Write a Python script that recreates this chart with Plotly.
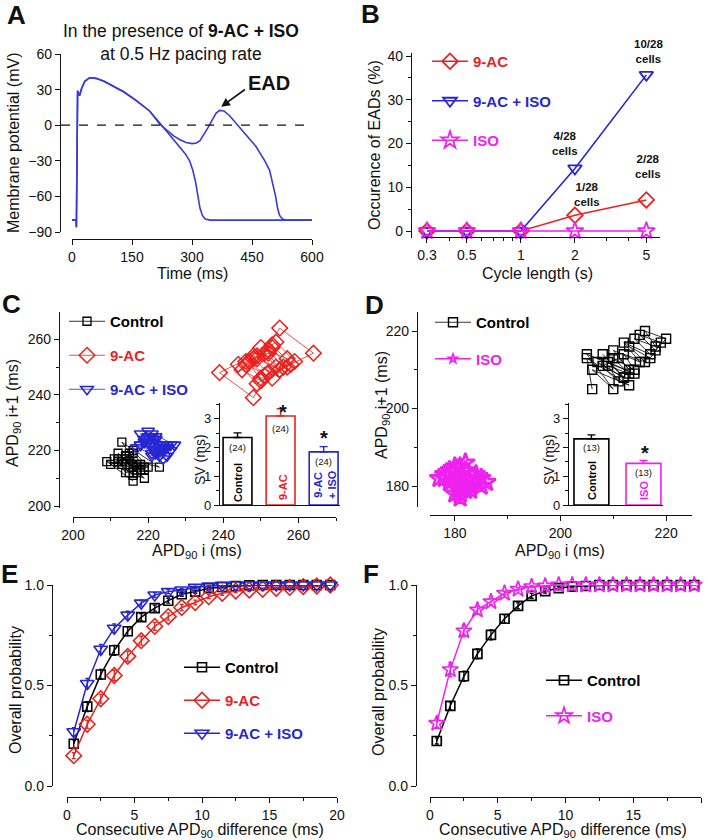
import plotly.graph_objects as go

# ------------------------------------------------------------------ DATA
# Panel A: action potential traces (time in ms, membrane potential in mV)
ap_time_ead = [0, 10, 11, 12, 13, 14, 16, 19, 24, 32, 44, 60, 80, 100, 130, 160, 194, 219, 236, 254, 269, 285,
               300, 311, 320, 330, 340, 350, 360, 369, 380, 394, 410, 427, 445, 460, 470, 482, 494, 503, 509,
               514, 519, 526, 535, 600]
ap_volt_ead = [-80, -80, -86, -55, -10, 29, 27, 25, 31, 37, 40, 39.5, 37, 33.5, 28, 21, 12, 1, -4, -9, -12, -14.5,
               -15.5, -15, -13, -8, -2, 4, 10, 12.5, 12, 8, 2, -5, -12, -18, -23, -30, -38, -50, -60,
               -70, -76, -79, -80, -80]
ap_time_normal = [0, 10, 11, 12, 13, 14, 16, 19, 24, 32, 44, 60, 80, 100, 130, 160, 194, 219, 236, 254, 269, 283,
                  294, 302, 309, 315, 320, 326, 333, 345, 400, 500, 600]
ap_volt_normal = [-80, -80, -86, -55, -10, 29, 27, 25, 31, 37, 40, 39.5, 37, 33.5, 28, 21, 12, 2, -5, -12, -18, -24,
                  -30, -38, -48, -60, -70, -76, -79, -80, -80, -80, -80]

# Panel B: occurrence of EADs (%) vs cycle length (s)
cycle_length_s = [0.3, 0.5, 1, 2, 5]
ead_pct_9ac = [0, 0, 0, 3.6, 7.1]
ead_pct_9ac_iso = [0, 0, 0, 14.3, 35.7]
ead_pct_iso = [0, 0, 0, 0, 0]
cycle_ticks = [0.3, 0.5, 1, 2, 5]
cycle_tick_text = ["0.3", "0.5", "1", "2", "5"]

# Panel C: beat-to-beat APD90 sequences (ms)
apd_c_control = [216, 209, 216, 214, 218, 213, 223, 214, 217, 212, 219, 210, 215, 218, 213, 216, 220, 214,
                 212, 217, 215, 219, 213, 216, 211, 217, 214, 218, 215, 212, 216, 219, 214, 217, 213, 215]
apd_c_9ac = [252, 248, 239, 248, 254, 250, 257, 253, 246, 251, 255, 264, 255, 249, 253, 258, 251, 247,
             252, 256, 250, 245, 249, 254, 259, 252, 248, 253, 257, 250, 246, 252, 255, 249, 244, 251]
apd_c_9ac_iso = [221, 218, 226, 222, 224, 220, 227, 222, 219, 223, 221, 225, 218, 222, 224, 217, 221, 223,
                 220, 225, 222, 219, 224, 221, 226, 220, 223, 218, 222, 225, 221, 219, 224, 222, 220, 223]
sv_c_groups = ["Control", "9-AC", "9-AC + ISO"]
sv_c_values = [2.35, 3.1, 1.85]
sv_c_err = [0.16, 0.25, 0.18]
sv_c_n = [24, 24, 24]

# Panel D
apd_d_control = [206, 205, 213, 206, 210, 205, 214, 209, 212, 208, 211, 213, 210, 215, 212, 217, 214, 218,
                 216, 220, 218, 215, 219, 217, 213, 216, 212, 214, 210, 213, 209, 211, 207, 212, 208, 214]
apd_d_iso = [181, 178, 183, 180, 185, 182, 179, 184, 181, 177, 182, 180, 184, 183, 179, 181, 185, 180,
             178, 182, 184, 181, 179, 183, 180, 182, 186, 181, 178, 183, 180, 184, 182, 179, 181, 183]
sv_d_groups = ["Control", "ISO"]
sv_d_values = [2.3, 1.45]
sv_d_err = [0.14, 0.1]
sv_d_n = [13, 13]

# Panels E/F: cumulative probability of consecutive APD90 difference
apd_diff_ms = [0.5, 1.5, 2.5, 3.5, 4.5, 5.5, 6.5, 7.5, 8.5, 9.5, 10.5, 11.5, 12.5, 13.5, 14.5, 15.5, 16.5,
               17.5, 18.5, 19.5]
cum_e_control = [0.21, 0.395, 0.555, 0.675, 0.77, 0.84, 0.885, 0.922, 0.954, 0.967, 0.984, 0.99, 0.995,
                 0.998, 1.0, 1.0, 1.0, 1.0, 1.0, 1.0]
err_e_control = [0.02, 0.025, 0.025, 0.025, 0.022, 0.018, 0.015, 0.012, 0.01, 0.008, 0.005, 0.004, 0.003,
                 0.002, 0.001, 0, 0, 0, 0, 0]
cum_e_9ac = [0.151, 0.307, 0.434, 0.55, 0.645, 0.723, 0.794, 0.843, 0.888, 0.913, 0.942, 0.959, 0.97,
             0.975, 0.979, 0.984, 0.988, 0.992, 0.995, 1.0]
err_e_9ac = [0.015, 0.02, 0.022, 0.025, 0.025, 0.022, 0.02, 0.018, 0.015, 0.012, 0.01, 0.01, 0.008, 0.008,
             0.007, 0.006, 0.005, 0.004, 0.003, 0.002]
cum_e_9ac_iso = [0.27, 0.51, 0.68, 0.785, 0.85, 0.91, 0.95, 0.967, 0.975, 0.988, 0.995, 0.998, 1.0, 1.0,
                 1.0, 1.0, 1.0, 1.0, 1.0, 1.0]
err_e_9ac_iso = [0.02, 0.025, 0.025, 0.022, 0.02, 0.015, 0.012, 0.01, 0.008, 0.006, 0.004, 0.003, 0.002, 0,
                 0, 0, 0, 0, 0, 0]
cum_f_control = [0.224, 0.399, 0.546, 0.657, 0.752, 0.832, 0.896, 0.946, 0.97, 0.984, 0.992, 0.995, 1.0,
                 1.0, 1.0, 1.0, 1.0, 1.0, 1.0, 1.0]
err_f_control = [0.015, 0.02, 0.025, 0.025, 0.025, 0.02, 0.015, 0.012, 0.01, 0.008, 0.006, 0.004, 0.003,
                 0.002, 0, 0, 0, 0, 0, 0]
cum_f_iso = [0.312, 0.579, 0.772, 0.876, 0.917, 0.959, 0.979, 0.992, 0.995, 1.0, 1.0, 1.0, 1.0, 1.0, 1.0,
             1.0, 1.0, 1.0, 1.0, 1.0]
err_f_iso = [0.025, 0.035, 0.03, 0.02, 0.015, 0.01, 0.008, 0.005, 0.003, 0.002, 0, 0, 0, 0, 0, 0, 0, 0, 0, 0]

# ------------------------------------------------------------------ STYLE
W, H = 708, 840
FONT = "Liberation Sans, Arial, Helvetica, sans-serif"
INK = "#111111"
RED = "#e8231f"
BLUE = "#2626d2"
MAG = "#ee22ee"
TRACE_A = "#3a3ad4"


def X(px):
    return px / W


def Y(py):
    return 1 - py / H


def xax(px0, px1, rng, py, **kw):
    d = dict(domain=[X(px0), X(px1)], range=rng, anchor="free", position=Y(py), showline=True,
             linecolor=INK, linewidth=1.3, ticks="outside", ticklen=5, tickwidth=1.2, tickcolor=INK,
             showgrid=False, zeroline=False, fixedrange=True, automargin=False,
             tickfont=dict(family=FONT, size=14, color=INK))
    d.update(kw)
    return d


def yax(py_top, py_bot, rng, px, **kw):
    d = dict(domain=[Y(py_bot), Y(py_top)], range=rng, anchor="free", position=X(px), side="left",
             showline=True, linecolor=INK, linewidth=1.3, ticks="outside", ticklen=5, tickwidth=1.2,
             tickcolor=INK, showgrid=False, zeroline=False, fixedrange=True, automargin=False,
             tickfont=dict(family=FONT, size=14, color=INK))
    d.update(kw)
    return d


def minor(**kw):
    d = dict(ticks="outside", ticklen=3, tickwidth=1, tickcolor=INK)
    d.update(kw)
    return d


def legend_name(text, color):
    return "<span style='color:%s'><b>%s</b></span>" % (color, text)


fig = go.Figure()

# ------------------------------------------------------------------ PANEL A
fig.add_trace(go.Scatter(x=ap_time_normal, y=ap_volt_normal, mode="lines", xaxis="x", yaxis="y",
                         line=dict(color=TRACE_A, width=1.6), showlegend=False, cliponaxis=False))
fig.add_trace(go.Scatter(x=ap_time_ead, y=ap_volt_ead, mode="lines", xaxis="x", yaxis="y",
                         line=dict(color=TRACE_A, width=1.6), showlegend=False, cliponaxis=False))

# ------------------------------------------------------------------ PANEL B
b_series = [("9-AC", ead_pct_9ac, RED, "diamond-open", 12),
            ("9-AC + ISO", ead_pct_9ac_iso, BLUE, "triangle-down-open", 12),
            ("ISO", ead_pct_iso, MAG, "star-open", 13)]
for i, (nm, vals, col, sym, sz) in enumerate(b_series):
    fig.add_trace(go.Scatter(x=cycle_length_s, y=vals, mode="lines+markers", xaxis="x2", yaxis="y2",
                             name=legend_name(nm, col), legend="legend", legendgroup="b%d" % i,
                             line=dict(color=col, width=1.6),
                             marker=dict(symbol=sym, size=sz, color=col, line=dict(color=col, width=1.8)),
                             cliponaxis=False))

# ------------------------------------------------------------------ PANEL C
c_series = [("Control", apd_c_control, "#000000", "square-open", 8, 1.3),
            ("9-AC", apd_c_9ac, RED, "diamond-open", 12, 1.5),
            ("9-AC + ISO", apd_c_9ac_iso, BLUE, "triangle-down-open", 11, 1.6)]
for i, (nm, apd, col, sym, sz, lw) in enumerate(c_series):
    fig.add_trace(go.Scatter(x=apd[:-1], y=apd[1:], mode="lines+markers", xaxis="x3", yaxis="y3",
                             name=legend_name(nm, col), legend="legend2", legendgroup="c%d" % i,
                             line=dict(color=col, width=0.8),
                             marker=dict(symbol=sym, size=sz, color=col, line=dict(color=col, width=lw)),
                             cliponaxis=False))
c_bar_colors = ["#000000", RED, BLUE]
for g, v, e, col in zip(sv_c_groups, sv_c_values, sv_c_err, c_bar_colors):
    fig.add_trace(go.Bar(x=[g], y=[v], xaxis="x4", yaxis="y4", width=0.67, showlegend=False,
                         marker=dict(color="white", line=dict(color=col, width=1.6)),
                         error_y=dict(type="data", array=[e], arrayminus=[0], symmetric=False,
                                      color=col, thickness=1.4, width=4)))

# ------------------------------------------------------------------ PANEL D
d_series = [("Control", apd_d_control, "#000000", "square-open", 9, 1.4, True),
            ("ISO", apd_d_iso, MAG, "star-open", 14, 2.6, False)]
for i, (nm, apd, col, sym, sz, lw, inleg) in enumerate(d_series):
    fig.add_trace(go.Scatter(x=apd[:-1], y=apd[1:], mode="lines+markers", xaxis="x5", yaxis="y5",
                             name=legend_name(nm, col), legend="legend3", legendgroup="d%d" % i,
                             showlegend=inleg, line=dict(color=col, width=0.8),
                             marker=dict(symbol=sym, size=sz, color=col, line=dict(color=col, width=lw)),
                             cliponaxis=False))
# legend key for the ISO series (smaller star, as in the original key)
fig.add_trace(go.Scatter(x=[None], y=[None], mode="lines+markers", xaxis="x5", yaxis="y5",
                         name=legend_name("ISO", MAG), legend="legend3", legendgroup="d1",
                         line=dict(color=MAG, width=1.5),
                         marker=dict(symbol="star-open", size=7, color=MAG, line=dict(color=MAG, width=1.5))))
d_bar_colors = ["#000000", MAG]
for g, v, e, col in zip(sv_d_groups, sv_d_values, sv_d_err, d_bar_colors):
    fig.add_trace(go.Bar(x=[g], y=[v], xaxis="x6", yaxis="y6", width=0.67, showlegend=False,
                         marker=dict(color="white", line=dict(color=col, width=1.6)),
                         error_y=dict(type="data", array=[e], arrayminus=[0], symmetric=False,
                                      color=col, thickness=1.4, width=4)))

# ------------------------------------------------------------------ PANEL E
e_series = [("Control", cum_e_control, err_e_control, "#000000", "square-open", 9),
            ("9-AC", cum_e_9ac, err_e_9ac, RED, "diamond-open", 12),
            ("9-AC + ISO", cum_e_9ac_iso, err_e_9ac_iso, BLUE, "triangle-down-open", 12)]
for i, (nm, vals, err, col, sym, sz) in enumerate(e_series):
    fig.add_trace(go.Scatter(x=apd_diff_ms, y=vals, mode="lines+markers", xaxis="x7", yaxis="y7",
                             name=legend_name(nm, col), legend="legend4", legendgroup="e%d" % i,
                             line=dict(color=col, width=1.5),
                             marker=dict(symbol=sym, size=sz, color=col, line=dict(color=col, width=1.6)),
                             error_y=dict(type="data", array=err, color=col, thickness=1.3, width=2),
                             cliponaxis=False))

# ------------------------------------------------------------------ PANEL F
f_series = [("Control", cum_f_control, err_f_control, "#000000", "square-open", 9),
            ("ISO", cum_f_iso, err_f_iso, MAG, "star-open", 12)]
for i, (nm, vals, err, col, sym, sz) in enumerate(f_series):
    fig.add_trace(go.Scatter(x=apd_diff_ms, y=vals, mode="lines+markers", xaxis="x8", yaxis="y8",
                             name=legend_name(nm, col), legend="legend5", legendgroup="f%d" % i,
                             line=dict(color=col, width=1.5),
                             marker=dict(symbol=sym, size=sz, color=col, line=dict(color=col, width=1.7)),
                             error_y=dict(type="data", array=err, color=col, thickness=1.3, width=2),
                             cliponaxis=False))

# ------------------------------------------------------------------ AXES
layout_axes = dict(
    # A
    xaxis=xax(72, 312, [0, 600], 239, tickvals=[0, 150, 300, 450, 600]),
    yaxis=yax(54, 232, [-90, 60], 60, tickvals=[-90, -60, -30, 0, 30, 60]),
    # B
    xaxis2=xax(423, 660, [-0.545, 0.775], 237, type="log", tickvals=cycle_ticks, ticktext=cycle_tick_text,
               minor=minor(tickvals=[0.4, 0.6, 0.7, 0.8, 0.9, 3, 4])),
    yaxis2=yax(53, 238, [-1.6, 40.7], 411, tickvals=[0, 10, 20, 30, 40], minor=minor(dtick=5, tick0=0)),
    # C main
    xaxis3=xax(73, 336, [200, 270], 517, tickvals=[200, 220, 240, 260], minor=minor(dtick=10, tick0=200)),
    yaxis3=yax(312, 508, [199.3, 269.8], 59, tickvals=[200, 220, 240, 260], minor=minor(dtick=10, tick0=200)),
    # C inset
    xaxis4=xax(219, 340, [-0.43, 2.38], 505, type="category", categoryorder="array",
               categoryarray=sv_c_groups, ticks="", showticklabels=False),
    yaxis4=yax(403, 505, [0, 3.55], 219, tickvals=[0, 1, 2, 3], minor=minor(dtick=0.5, tick0=0),
               tickfont=dict(family=FONT, size=13, color=INK)),
    # D main
    xaxis5=xax(430, 692, [175.3, 224.9], 515, tickvals=[180, 200, 220], minor=minor(dtick=10, tick0=180)),
    yaxis5=yax(312, 507, [174.6, 224.9], 417, tickvals=[180, 200, 220], minor=minor(dtick=10, tick0=180)),
    # D inset
    xaxis6=xax(568, 663, [-0.45, 1.375], 505, type="category", categoryorder="array",
               categoryarray=sv_d_groups, ticks="", showticklabels=False),
    yaxis6=yax(403, 505, [0, 3.55], 568, tickvals=[0, 1, 2, 3], minor=minor(dtick=0.5, tick0=0),
               tickfont=dict(family=FONT, size=13, color=INK)),
    # E
    xaxis7=xax(67, 337, [0, 20], 797, tickvals=[0, 5, 10, 15, 20], minor=minor(dtick=2.5, tick0=0)),
    yaxis7=yax(585, 786, [0, 1], 52, tickvals=[0, 0.5, 1], ticktext=["0.0", "0.5", "1.0"],
               minor=minor(dtick=0.25, tick0=0)),
    # F
    xaxis8=xax(430, 701, [0, 20], 797, tickvals=[0, 5, 10, 15, 20], minor=minor(dtick=2.5, tick0=0)),
    yaxis8=yax(585, 786, [0, 1], 416, tickvals=[0, 0.5, 1], ticktext=["0.0", "0.5", "1.0"],
               minor=minor(dtick=0.25, tick0=0)),
)


def leg(px, py, gap):
    return dict(x=X(px), y=Y(py), xanchor="left", yanchor="top", bgcolor="rgba(0,0,0,0)",
                font=dict(family=FONT, size=15, color=INK), itemwidth=36, tracegroupgap=gap,
                traceorder="grouped", itemclick=False, itemdoubleclick=False, borderwidth=0)


# ------------------------------------------------------------------ ANNOTATIONS
ann = []


def txt(px, py, s, size=16, bold=False, color=INK, angle=0, xanchor="center", yanchor="middle"):
    ann.append(dict(x=X(px), y=Y(py), xref="paper", yref="paper", text=("<b>%s</b>" % s) if bold else s,
                    showarrow=False, font=dict(family=FONT, size=size, color=color), textangle=angle,
                    xanchor=xanchor, yanchor=yanchor))


# panel letters
for letter, px, py in [("A", 16, 15), ("B", 370, 14), ("C", 11, 304), ("D", 374, 305), ("E", 9, 574),
                       ("F", 371, 574)]:
    txt(px, py, letter, size=26, bold=True)

# Panel A texts
txt(181, 42, "In the presence of <b>9-AC + ISO</b><br>at 0.5 Hz pacing rate", size=17.5)
txt(13, 143, "Membrane potential (mV)", size=16, angle=-90)
txt(192, 274, "Time (ms)", size=16)
txt(269, 83, "EAD", size=20, bold=True)
ann.append(dict(x=373, y=15.5, xref="x", yref="y", ax=436, ay=31, axref="x", ayref="y", text="",
                showarrow=True, arrowhead=2, arrowsize=1.1, arrowwidth=1.6, arrowcolor=INK))

# Panel B texts
txt(374, 145, "Occurence of EADs (%)", size=16, angle=-90)
txt(537, 274, "Cycle length (s)", size=16)
txt(648, 51, "10/28<br>cells", size=11.5, bold=True)
txt(565, 143, "4/28<br>cells", size=11.5, bold=True)
txt(648, 167, "2/28<br>cells", size=11.5, bold=True)
txt(587, 194, "1/28<br>cells", size=11.5, bold=True)

# Panel C texts
txt(13, 413, "APD<sub>90</sub> i+1 (ms)", size=16, angle=-90)
txt(197, 551, "APD<sub>90</sub> i (ms)", size=16)
txt(200, 460, "SV (ms)", size=14, angle=-90)
c_centers = [237.5, 280.5, 323.5]
c_n_y = [447, 428, 461]
for cx, ny, n in zip(c_centers, c_n_y, sv_c_n):
    txt(cx, ny, "(%d)" % n, size=9.5)
txt(238, 483, "Control", size=11, bold=True, color="#000000", angle=-90)
txt(283, 487, "9-AC", size=11, bold=True, color=RED, angle=-90)
txt(325, 485, "9-AC<br>+ ISO", size=11, bold=True, color=BLUE, angle=-90)
txt(283, 412, "*", size=20, bold=True)
txt(324, 438, "*", size=20, bold=True)

# Panel D texts
txt(382, 405, "APD<sub>90</sub> i+1 (ms)", size=16, angle=-90)
txt(560, 551, "APD<sub>90</sub> i (ms)", size=16)
txt(549, 460, "SV (ms)", size=14, angle=-90)
d_centers = [591.5, 643.5]
d_n_y = [447, 472]
for cx, ny, n in zip(d_centers, d_n_y, sv_d_n):
    txt(cx, ny, "(%d)" % n, size=9.5)
txt(592, 481, "Control", size=11, bold=True, color="#000000", angle=-90)
txt(644, 491, "ISO", size=11, bold=True, color=MAG, angle=-90)
txt(645, 453, "*", size=20, bold=True)

# Panel E/F texts
txt(15, 690, "Overall probability", size=16, angle=-90)
txt(200, 830, "Consecutive APD<sub>90</sub> difference (ms)", size=16)
txt(378, 692, "Overall probability", size=16, angle=-90)
txt(563, 830, "Consecutive APD<sub>90</sub> difference (ms)", size=16)

shapes = [dict(type="line", xref="paper", yref="y", x0=X(61), x1=X(307), y0=0, y1=0,
               line=dict(color=INK, width=1.2, dash="dash"))]

fig.update_layout(
    width=W, height=H, autosize=False, margin=dict(l=0, r=0, t=0, b=0, pad=0, autoexpand=False),
    paper_bgcolor="white", plot_bgcolor="rgba(0,0,0,0)", barmode="overlay",
    font=dict(family=FONT, color=INK), hovermode=False,
    legend=leg(427, 45, 17), legend2=leg(64, 305, 11.5), legend3=leg(430, 306, 14),
    legend4=leg(179, 651, 10.5), legend5=leg(541, 664, 13),
    annotations=ann, shapes=shapes, **layout_axes)

fig.write_html("out.html", config={"displayModeBar": False},
               post_script="document.body.style.margin='0px';document.body.style.padding='0px';")
